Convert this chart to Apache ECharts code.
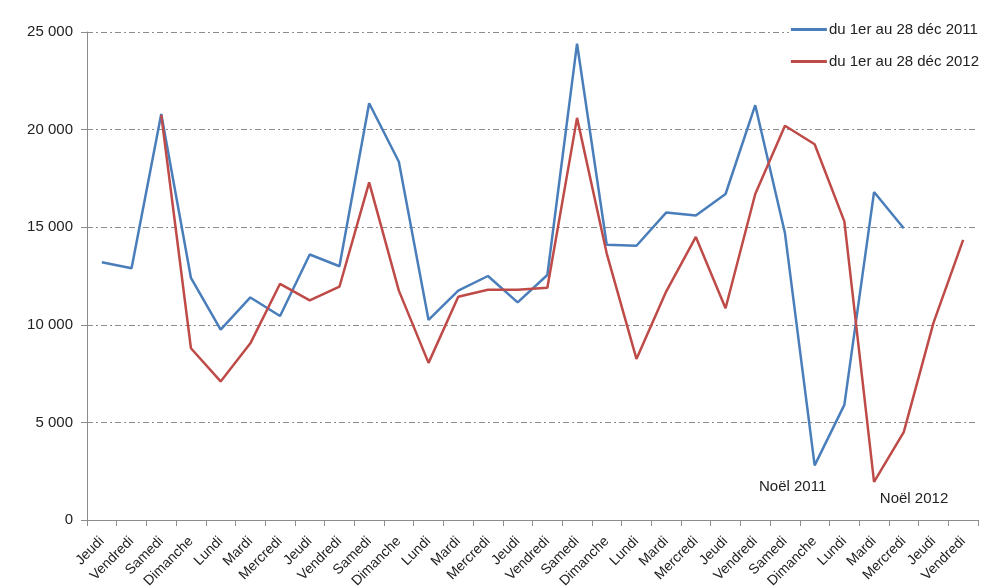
<!DOCTYPE html>
<html><head><meta charset="utf-8">
<script src="https://cdn.jsdelivr.net/npm/echarts@6/dist/echarts.min.js"></script>
<style>html,body{margin:0;padding:0;background:#fff}#c{width:982px;height:588px}</style>
</head><body><div id="c"></div>
<script>
var categories = ['Jeudi','Vendredi','Samedi','Dimanche','Lundi','Mardi','Mercredi','Jeudi','Vendredi','Samedi','Dimanche','Lundi','Mardi','Mercredi','Jeudi','Vendredi','Samedi','Dimanche','Lundi','Mardi','Mercredi','Jeudi','Vendredi','Samedi','Dimanche','Lundi','Mardi','Mercredi','Jeudi','Vendredi'];
var series2011 = [13200,12900,20800,12400,9750,11400,10450,13600,13000,21350,18350,10250,11750,12500,11150,12550,24400,14100,14050,15750,15600,16700,21250,14700,2800,5900,16800,14950,null,null];
var series2012 = [null,null,20750,8800,7100,9050,12100,11250,11950,17300,11750,8050,11440,11800,11800,11900,20600,13650,8250,11700,14500,10850,16700,20200,19250,15300,1950,4500,10100,14350];
var names = ['du 1er au 28 déc 2011','du 1er au 28 déc 2012'];
var yTicks = [0,5000,10000,15000,20000,25000];
var noel2011Index = 24, noel2012Index = 26;

var font = 'Liberation Sans';
function fmt(v){ return v === 0 ? '0' : String(v).replace(/\B(?=(\d{3})+(?!\d))/g, ' '); }

var chart = echarts.init(document.getElementById('c'), null, {renderer:'canvas'});
chart.setOption({
  animation:false,
  backgroundColor:'#fff',
  textStyle:{fontFamily:font},
  grid:{left:87, right:4, top:32, bottom:68, containLabel:false, outerBoundsMode:'none'},
  legend:{
    orient:'vertical', right:0, top:20, padding:[2,3,2,2],
    itemWidth:36, itemHeight:3, itemGap:17,
    icon:'rect', backgroundColor:'#fff',
    textStyle:{fontFamily:font, fontSize:15, color:'#222', padding:[0,0,0,-3]},
    data:names
  },
  xAxis:{
    type:'category', data:categories, boundaryGap:true,
    axisLine:{lineStyle:{color:'#8c8c8c', width:1}},
    axisTick:{show:true, alignWithLabel:false, length:6, lineStyle:{color:'#8c8c8c'}},
    axisLabel:{rotate:45, interval:0, fontFamily:font, fontSize:14, color:'#222', margin:19}
  },
  yAxis:{
    type:'value', min:yTicks[0], max:yTicks[yTicks.length-1], interval:yTicks[1]-yTicks[0],
    axisLine:{show:true, lineStyle:{color:'#8c8c8c', width:1}},
    axisTick:{show:true, length:6, lineStyle:{color:'#8c8c8c'}},
    axisLabel:{fontFamily:font, fontSize:15, color:'#222', margin:14, formatter:fmt},
    splitLine:{show:true, lineStyle:{color:'#8c8c8c', width:1, type:[6,3,2,3]}}
  },
  series:[
    {name:names[0], type:'line', data:series2011, symbol:'none', connectNulls:false,
     lineStyle:{color:'#4a7ebb', width:2.5}, itemStyle:{color:'#4a7ebb'},
     markPoint:{symbol:'circle', symbolSize:0, silent:true,
       label:{show:true, formatter:'Noël 2011', color:'#222', fontFamily:font, fontSize:15, offset:[-22,22]},
       data:[{coord:[noel2011Index, series2011[noel2011Index]]}]}
    },
    {name:names[1], type:'line', data:series2012, symbol:'none', connectNulls:false,
     lineStyle:{color:'#be4b48', width:2.5}, itemStyle:{color:'#be4b48'},
     markPoint:{symbol:'circle', symbolSize:0, silent:true,
       label:{show:true, formatter:'Noël 2012', color:'#222', fontFamily:font, fontSize:15, offset:[40,17]},
       data:[{coord:[noel2012Index, series2012[noel2012Index]]}]}
    }
  ]
});
</script></body></html>
